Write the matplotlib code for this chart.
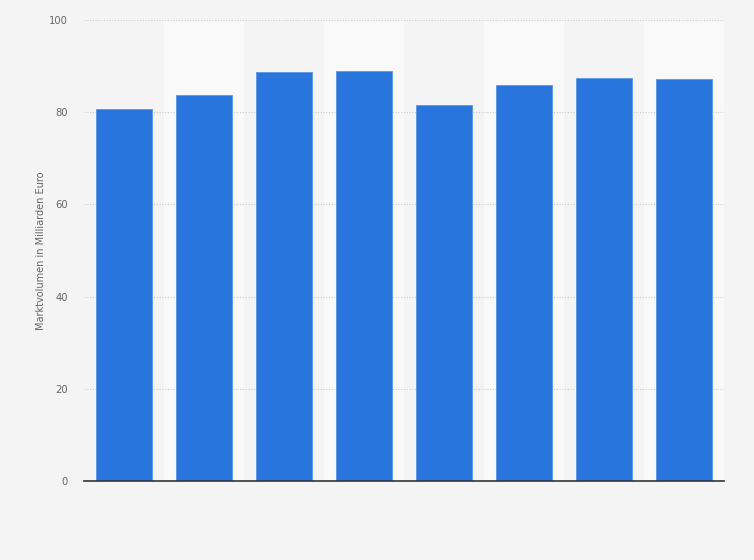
import matplotlib
matplotlib.use("Agg")
import matplotlib.pyplot as plt

# values (no category labels are shown)
categories = ["1", "2", "3", "4", "5", "6", "7", "8"]
volumes = [80.7, 83.8, 88.8, 89.0, 81.6, 85.8, 87.4, 87.2]
y_ticks = [0, 20, 40, 60, 80, 100]

bg = "#f4f4f4"
band = "#f9f9f9"
bar_color = "#2876dd"

fig = plt.figure(figsize=(7.54, 5.6), dpi=100, facecolor=bg)
ax = fig.add_axes([84 / 754, 79 / 560, 640 / 754, 461 / 560])
ax.set_facecolor(bg)

x = list(range(len(categories)))
for i in x:
    if i % 2 == 1:
        ax.axvspan(i - 0.5, i + 0.5, color=band, zorder=0, lw=0)

ax.bar(x, volumes, width=0.69, color=bar_color, edgecolor="#5a95e6",
       linewidth=0.6, zorder=3)

ax.set_xlim(-0.5, len(categories) - 0.5)
ax.set_ylim(0, 100)
ax.set_yticks(y_ticks)
ax.set_yticklabels([str(t) for t in y_ticks])
ax.set_xticks([])

ax.yaxis.grid(True, color="#cccccc", linestyle=(0, (1, 1.5)), linewidth=0.8, zorder=1)
ax.set_axisbelow(True)

for side in ["top", "right", "left"]:
    ax.spines[side].set_visible(False)
ax.spines["bottom"].set_color("#333333")
ax.spines["bottom"].set_linewidth(1.2)
ax.spines["bottom"].set_zorder(4)

ax.tick_params(axis="y", length=0, pad=11.5, labelsize=7.2, labelcolor="#666666")
ax.set_ylabel("Marktvolumen in Milliarden Euro", fontsize=7.0, color="#666666", labelpad=2.5)

plt.savefig("out.png", dpi=100, facecolor=bg)
plt.close()
